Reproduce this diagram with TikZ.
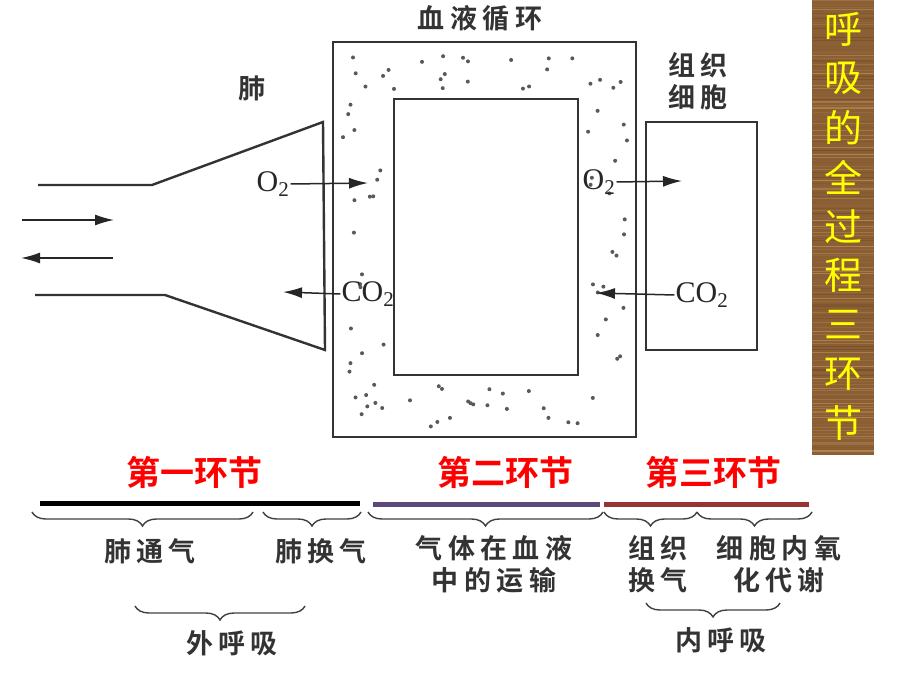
\documentclass[tikz,border=0pt]{standalone}
\usepackage{fontspec}
\setmainfont{Liberation Serif}
\newfontfamily\hei[LetterSpace=20]{Noto Sans CJK SC Bold}
\newfontfamily\heititolo{Noto Sans CJK SC Bold}
\newfontfamily\heibanda{Noto Sans CJK SC}
\usetikzlibrary{arrows.meta,decorations.pathreplacing}

\definecolor{legno}{RGB}{139,94,52}
\definecolor{legnoscuro}{RGB}{92,58,28}
\definecolor{legnochiaro}{RGB}{178,132,80}
\definecolor{barraviola}{RGB}{92,72,122}
\definecolor{barrarossa}{RGB}{150,52,52}
\definecolor{giallo}{RGB}{255,255,0}

\tikzset{
  linea/.style={line width=2.4pt, black!80},
  freccia/.style={-{Latex[length=19pt,width=11pt]}, line width=1.5pt, black!85},
  etich/.style={font=\hei\fontsize{27}{32}\selectfont, black!80, align=center, inner sep=0pt},
  gas/.style={font=\fontsize{30}{32}\selectfont, black!85, inner sep=1pt},
  titolo/.style={font=\heititolo\fontsize{34}{36}\selectfont, red, inner sep=0pt},
  banda/.style={font=\heibanda\fontsize{38}{40}\selectfont, giallo, inner sep=0pt},
  graffa/.style={decorate, decoration={brace, mirror, amplitude=14pt}, line width=1.4pt, black!75},
  puntino/.style={fill=black!65}
}

\begin{document}
\begin{tikzpicture}[x=1pt, y=-1pt]
        \useasboundingbox (0,0) rectangle (920,690);

        % Polmone
        \draw[linea] (38,185) -- (152,185) -- (323,122) -- (325,350) -- (165,295) -- (35,295);
        \node[etich] (fei) at (252,88) {肺};
        \coordinate (ariaA) at (22,220);
        \coordinate (ariaB) at (114,220);
        \coordinate (ariaC) at (113,258);
        \coordinate (ariaD) at (21,258);
        \draw[freccia] (ariaA) -- (ariaB);
        \draw[freccia] (ariaC) -- (ariaD);

        % Circolazione del sangue
        \draw[linea] (333,42) rectangle (636,437);
        \draw[linea] (394,99) rectangle (578,375);
        \node[etich] (xunhuan) at (480,18) {血液循环};
        \pgfmathsetseed{7}
        \foreach \k in {1,...,24}{
            \fill[puntino] ({345+rnd*280},{52+rnd*38}) circle (2);
        }
        \foreach \k in {1,...,26}{
            \fill[puntino] ({345+rnd*280},{384+rnd*44}) circle (2);
        }
        \foreach \k in {1,...,18}{
            \fill[puntino] ({343+rnd*42},{102+rnd*270}) circle (2);
        }
        \foreach \k in {1,...,20}{
            \fill[puntino] ({586+rnd*42},{102+rnd*270}) circle (2);
        }

        % Cellule dei tessuti
        \draw[linea] (646,122) rectangle (757,350);
        \node[etich] (zuzhi) at (698,81) {组织\\细胞};

        % Scambio dei gas
        \node[gas] (o2a) at (273,184) {O\textsubscript{2}};
        \coordinate (o2aFine) at (368,183);
        \draw[freccia] (o2a.east) -- (o2aFine);
        \node[gas] (co2a) at (368,294) {CO\textsubscript{2}};
        \coordinate (co2aFine) at (283,292);
        \draw[freccia] (co2a.west) -- (co2aFine);
        \node[gas] (o2b) at (599,182) {O\textsubscript{2}};
        \coordinate (o2bFine) at (682,181);
        \draw[freccia] (o2b.east) -- (o2bFine);
        \node[gas] (co2b) at (702,295) {CO\textsubscript{2}};
        \coordinate (co2bFine) at (596,293);
        \draw[freccia] (co2b.west) -- (co2bFine);

        % Banda di legno
        \fill[legno] (812,0) rectangle (874,455);
        \pgfmathsetseed{3}
        \foreach \i in {0,...,150}{
            \pgfmathsetmacro\yy{3*\i+rnd*2}
            \pgfmathsetmacro\tt{round(rnd*70)}
            \draw[legnoscuro!\tt!legnochiaro, line width=1.1pt] (812,\yy) -- (874,\yy);
        }
        \foreach \c [count=\i from 0] in {呼,吸,的,全,过,程,三,环,节}
            \node[banda] (b\i) at (843,{29+49.3*\i}) {\c};

        % Tre fasi
        \node[titolo] (fase1) at (194,472) {第一环节};
        \node[titolo] (fase2) at (505,472) {第二环节};
        \node[titolo] (fase3) at (713,472) {第三环节};
        \draw[line width=5pt, black] (40,503) -- (360,503);
        \draw[line width=5pt, barraviola] (373,504) -- (600,504);
        \draw[line width=5pt, barrarossa] (604,504) -- (809,504);

        % Graffe e processi
        \draw[graffa] (32,512) -- (253,512);
        \draw[graffa] (263,512) -- (361,512);
        \draw[graffa] (368,512) -- (603,512);
        \draw[graffa] (604,512) -- (697,512);
        \draw[graffa] (697,512) -- (812,512);
        \node[etich] (tongqi) at (150,551) {肺通气};
        \node[etich] (huanqi) at (321,551) {肺换气};
        \node[etich] (yunshu) at (494,564) {气体在血液\\中的运输};
        \node[etich] (zzhuanqi) at (658,564) {组织\\换气};
        \node[etich] (daixie) at (779,564) {细胞内氧\\化代谢};

        \draw[graffa] (135,606) -- (305,606);
        \draw[graffa] (646,603) -- (780,603);
        \node[etich] (waihuxi) at (232,643) {外呼吸};
        \node[etich] (neihuxi) at (721,640) {内呼吸};
\end{tikzpicture}
\end{document}
